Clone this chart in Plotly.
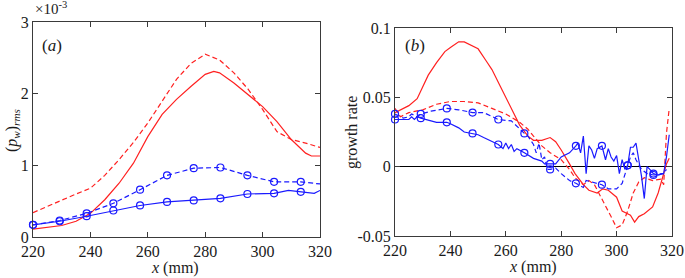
import plotly.graph_objects as go

# ---------------- Panel (a): (p_w)_rms, in units of 1e-3 ----------------
a_red_dash_x = [220, 225, 230, 235, 240, 245, 250, 255, 260, 265, 270, 275, 280, 285, 290, 295, 300, 305, 310, 315, 320]
a_red_dash_y = [0.34, 0.43, 0.52, 0.60, 0.68, 0.86, 1.08, 1.32, 1.59, 1.90, 2.20, 2.42, 2.55, 2.47, 2.29, 2.06, 1.78, 1.47, 1.36, 1.31, 1.25]

a_red_solid_x = [220, 225, 230, 235, 240, 245, 250, 255, 260, 265, 270, 275, 280, 283, 285, 290, 295, 300, 305, 310, 315, 317, 320]
a_red_solid_y = [0.11, 0.13, 0.16, 0.22, 0.33, 0.52, 0.75, 1.03, 1.40, 1.71, 1.92, 2.10, 2.27, 2.31, 2.29, 2.15, 1.99, 1.82, 1.61, 1.36, 1.17, 1.13, 1.13]

a_blue_solid_x = [220, 229.3, 238.7, 248, 257.3, 266.7, 276, 285.3, 294.7, 304, 309, 313.3, 318, 320]
a_blue_solid_y = [0.17, 0.22, 0.29, 0.37, 0.44, 0.49, 0.51, 0.54, 0.60, 0.61, 0.65, 0.63, 0.61, 0.65]
a_blue_solid_mx = [220, 229.3, 238.7, 248, 257.3, 266.7, 276, 285.3, 294.7, 304, 313.3]
a_blue_solid_my = [0.17, 0.22, 0.29, 0.37, 0.44, 0.49, 0.51, 0.54, 0.60, 0.61, 0.63]

a_blue_dash_x = [220, 229.3, 238.7, 248, 257.3, 266.7, 276, 285.3, 294.7, 304, 313.3, 320]
a_blue_dash_y = [0.17, 0.23, 0.33, 0.47, 0.66, 0.86, 0.96, 0.97, 0.86, 0.77, 0.77, 0.74]
a_blue_dash_mx = [220, 229.3, 238.7, 248, 257.3, 266.7, 276, 285.3, 294.7, 304, 313.3]
a_blue_dash_my = [0.17, 0.23, 0.33, 0.47, 0.66, 0.86, 0.96, 0.97, 0.86, 0.77, 0.77]

# ---------------- Panel (b): growth rate ----------------
b_red_solid_x = [220, 222, 225, 228, 230, 232, 235, 238, 240, 243, 245, 248, 250, 253, 255, 258, 260, 263, 265, 268, 270, 273, 276, 278, 280, 283, 285, 288, 290, 293, 295, 297, 300, 302, 305, 306.5, 308, 310, 313, 315, 317, 318, 319]
b_red_solid_y = [0.039, 0.041, 0.044, 0.049, 0.058, 0.066, 0.075, 0.083, 0.086, 0.090, 0.090, 0.087, 0.085, 0.076, 0.070, 0.058, 0.050, 0.038, 0.030, 0.022, 0.019, 0.019, 0.021, 0.018, 0.012, 0.002, -0.005, -0.013, -0.017, -0.019, -0.016, -0.017, -0.022, -0.032, -0.035, -0.040, -0.036, -0.034, -0.029, -0.019, -0.005, 0.002, 0.006]

b_red_dash_x = [220, 222, 225, 230, 235, 240, 245, 250, 255, 260, 265, 268, 270, 273, 276, 280, 283, 285, 288, 290, 292, 295, 298, 300, 302, 304, 306, 308, 310, 313, 316, 317, 318, 319]
b_red_dash_y = [0.042, 0.036, 0.039, 0.041, 0.045, 0.047, 0.047, 0.046, 0.042, 0.038, 0.032, 0.027, 0.022, 0.015, 0.010, 0.005, -0.002, -0.008, -0.013, -0.010, -0.013, -0.024, -0.036, -0.044, -0.042, -0.032, -0.019, -0.011, -0.008, -0.010, -0.009, -0.013, 0.024, 0.042]

b_blue_solid_x = [220, 225, 226, 227, 228, 229.3, 235, 238.7, 240, 243, 245, 248, 250, 252, 255, 257.3, 259, 260, 261, 262, 263, 264, 266.7, 270, 273, 274, 276, 278, 280, 283, 285.3, 286, 287, 288, 289, 290, 291, 292, 293, 294.7, 296, 297, 298, 299, 300, 301, 302, 303, 304, 305, 306, 307, 308, 309, 310, 311, 312, 313.3, 315, 316, 317, 318, 319]
b_blue_solid_y = [0.034, 0.034, 0.036, 0.034, 0.036, 0.035, 0.032, 0.032, 0.031, 0.028, 0.025, 0.024, 0.023, 0.021, 0.018, 0.016, 0.013, 0.017, 0.013, 0.016, 0.011, 0.013, 0.010, 0.006, 0.004, 0.002, 0.002, 0.002, 0.007, 0.010, 0.015, 0.017, 0.010, 0.022, -0.005, 0.015, 0.012, 0.006, 0.013, 0.015, 0.005, 0.013, 0.007, 0.004, 0.008, -0.005, 0.005, -0.002, 0.001, 0.014, 0.014, 0.017, 0.005, -0.007, -0.023, 0.000, -0.002, -0.005, -0.006, -0.005, -0.005, 0.007, 0.023]
b_blue_solid_mx = [220, 229.3, 238.7, 248, 257.3, 266.7, 276, 285.3, 294.7, 304, 313.3]
b_blue_solid_my = [0.034, 0.035, 0.032, 0.024, 0.016, 0.010, 0.002, 0.015, 0.015, 0.001, -0.005]

b_blue_dash_x = [220, 223, 225, 226, 228, 229.3, 233, 238.7, 243, 248, 252, 257.3, 262, 264, 266.7, 268, 270, 271, 272, 273, 274, 275, 276, 278, 280, 283, 285.3, 288, 289, 291, 293, 294.7, 297, 300, 302, 304, 305, 306, 307, 309, 311, 313.3, 315, 317, 318]
b_blue_dash_y = [0.038, 0.035, 0.036, 0.038, 0.036, 0.038, 0.040, 0.042, 0.041, 0.039, 0.039, 0.034, 0.033, 0.029, 0.024, 0.022, 0.016, 0.010, 0.017, 0.005, 0.007, -0.002, -0.002, -0.001, -0.005, -0.010, -0.012, -0.015, -0.010, -0.011, -0.012, -0.013, -0.016, -0.016, -0.012, 0.001, 0.007, 0.010, 0.005, -0.002, -0.005, -0.006, -0.006, -0.005, -0.002]
b_blue_dash_mx = [220, 229.3, 238.7, 248, 257.3, 266.7, 276, 285.3, 294.7, 304, 313.3]
b_blue_dash_my = [0.038, 0.038, 0.042, 0.039, 0.034, 0.024, -0.002, -0.012, -0.013, 0.001, -0.006]

x_ticks = [220, 240, 260, 280, 300, 320]
a_y_ticks = [0, 1, 2, 3]
b_y_ticks = [-0.05, 0, 0.05, 0.1]
b_y_ticklabels = ["-0.05", "0", "0.05", "0.1"]

RED = "#FF2020"
BLUE = "#1A1AFF"
FONT = "Liberation Serif"
AX = "#3a3a3a"
DASH = "5px,3px"

fig = go.Figure()

def line(x, y, color, dash, xa, ya):
    fig.add_trace(go.Scatter(x=x, y=y, mode="lines", line=dict(color=color, width=1.2, dash=dash),
                             xaxis=xa, yaxis=ya, showlegend=False, hoverinfo="skip"))

def marks(x, y, xa, ya):
    fig.add_trace(go.Scatter(x=x, y=y, mode="markers",
                             marker=dict(symbol="circle-open", size=7, color=BLUE, line=dict(width=1.2, color=BLUE)),
                             xaxis=xa, yaxis=ya, showlegend=False, hoverinfo="skip", cliponaxis=False))

line(a_red_dash_x, a_red_dash_y, RED, DASH, "x", "y")
line(a_red_solid_x, a_red_solid_y, RED, "solid", "x", "y")
line(a_blue_dash_x, a_blue_dash_y, BLUE, DASH, "x", "y")
marks(a_blue_dash_mx, a_blue_dash_my, "x", "y")
line(a_blue_solid_x, a_blue_solid_y, BLUE, "solid", "x", "y")
marks(a_blue_solid_mx, a_blue_solid_my, "x", "y")

line(b_red_solid_x, b_red_solid_y, RED, "solid", "x2", "y2")
line(b_red_dash_x, b_red_dash_y, RED, DASH, "x2", "y2")
line(b_blue_dash_x, b_blue_dash_y, BLUE, DASH, "x2", "y2")
marks(b_blue_dash_mx, b_blue_dash_my, "x2", "y2")
line(b_blue_solid_x, b_blue_solid_y, BLUE, "solid", "x2", "y2")
marks(b_blue_solid_mx, b_blue_solid_my, "x2", "y2")

W, H = 685, 278
def px(x): return x / W
def py(y): return 1 - y / H

axis_common = dict(showline=True, mirror="ticks", linecolor=AX, linewidth=1, ticks="inside",
                   ticklen=5, tickcolor=AX, showgrid=False, automargin=False,
                   tickfont=dict(family=FONT, size=16, color="#1a1a1a"))

def ann(text, x, y, size=16, angle=0, xanchor="center"):
    return dict(text=text, x=px(x), y=py(y), xref="paper", yref="paper", xanchor=xanchor,
                yanchor="middle", showarrow=False, textangle=angle,
                font=dict(family=FONT, size=size, color="#1a1a1a"))

fig.update_layout(
    template="none",
    width=W, height=H, margin=dict(l=0, r=0, t=0, b=0, autoexpand=False),
    paper_bgcolor="white", plot_bgcolor="white",
    xaxis=dict(domain=[px(33), px(320)], range=[220, 320], tickvals=x_ticks, zeroline=False,
               anchor="y", **axis_common),
    yaxis=dict(domain=[py(237), py(22)], range=[0, 3], tickvals=a_y_ticks, zeroline=False,
               anchor="x", **axis_common),
    xaxis2=dict(domain=[px(395), px(672)], range=[220, 320], tickvals=x_ticks, zeroline=False,
                anchor="y2", **axis_common),
    yaxis2=dict(domain=[py(236), py(28)], range=[-0.05, 0.1], tickvals=b_y_ticks, ticktext=b_y_ticklabels,
                zeroline=True, zerolinecolor="black", zerolinewidth=1.2, anchor="x2", **axis_common),
    annotations=[
        ann("×10<sup>-3</sup>", 33, 8, size=15, xanchor="left"),
        ann("(<i>a</i>)", 52, 45, size=17),
        ann("(<i>b</i>)", 415, 46, size=17),
        ann("(<i>p<sub>w</sub></i>)<sub><i>rms</i></sub>", 12, 130, angle=-90),
        ann("growth rate", 352, 133, angle=-90),
        ann("<i>x</i> (mm)", 175, 268),
        ann("<i>x</i> (mm)", 533, 267),
    ],
)

# Remove the default page margin so the figure fills the window exactly.
fig.write_html("out.html", config={"displayModeBar": False, "staticPlot": True},
               post_script="document.body.style.margin='0';document.body.style.overflow='hidden';")
